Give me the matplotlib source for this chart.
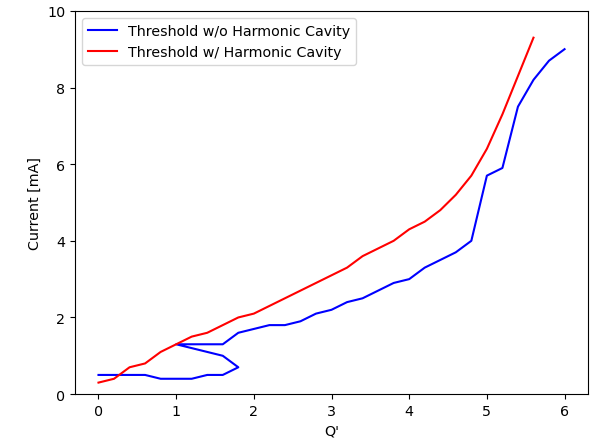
import numpy as np
import matplotlib
import matplotlib.pyplot as plt

matplotlib.use('agg')

# threshold w/o harmonic cavity (the path folds back near Q'=1..1.8)
q_wo = [0.0, 0.2, 0.4, 0.6, 0.8, 1.0, 1.2, 1.4, 1.6, 1.8, 1.6, 1.4, 1.0,
        1.2, 1.4, 1.6, 1.8, 2.0, 2.2, 2.4, 2.6, 2.8, 3.0, 3.2, 3.4, 3.6,
        3.8, 4.0, 4.2, 4.4, 4.6, 4.8, 5.0, 5.2, 5.4, 5.6, 5.8, 6.0]
i_wo = [0.5, 0.5, 0.5, 0.5, 0.4, 0.4, 0.4, 0.5, 0.5, 0.7, 1.0, 1.1, 1.3,
        1.3, 1.3, 1.3, 1.6, 1.7, 1.8, 1.8, 1.9, 2.1, 2.2, 2.4, 2.5, 2.7,
        2.9, 3.0, 3.3, 3.5, 3.7, 4.0, 5.7, 5.9, 7.5, 8.2, 8.7, 9.0]

# threshold w/ harmonic cavity
q_w = [0.0, 0.2, 0.4, 0.6, 0.8, 1.0, 1.2, 1.4, 1.6, 1.8, 2.0, 2.2, 2.4,
       2.6, 2.8, 3.0, 3.2, 3.4, 3.6, 3.8, 4.0, 4.2, 4.4, 4.6, 4.8, 5.0,
       5.2, 5.4, 5.6]
i_w = [0.3, 0.4, 0.7, 0.8, 1.1, 1.3, 1.5, 1.6, 1.8, 2.0, 2.1, 2.3, 2.5,
       2.7, 2.9, 3.1, 3.3, 3.6, 3.8, 4.0, 4.3, 4.5, 4.8, 5.2, 5.7, 6.4,
       7.3, 8.3, 9.3]

plt.rcParams['font.size'] = 10.3

fig, ax = plt.subplots(figsize=(5.92, 4.39), dpi=100)
fig.subplots_adjust(left=0.127, right=0.993, top=0.973, bottom=0.100)

ax.plot(q_wo, i_wo, color='blue', lw=1.5, label='Threshold w/o Harmonic Cavity')
ax.plot(q_w, i_w, color='red', lw=1.5, label='Threshold w/ Harmonic Cavity')

ax.set_ylim(0, 10)
ax.set_xlabel("Q'")
ax.set_ylabel('Current [mA]')
ax.legend(loc='upper left')

plt.savefig('out.png', dpi=100)
